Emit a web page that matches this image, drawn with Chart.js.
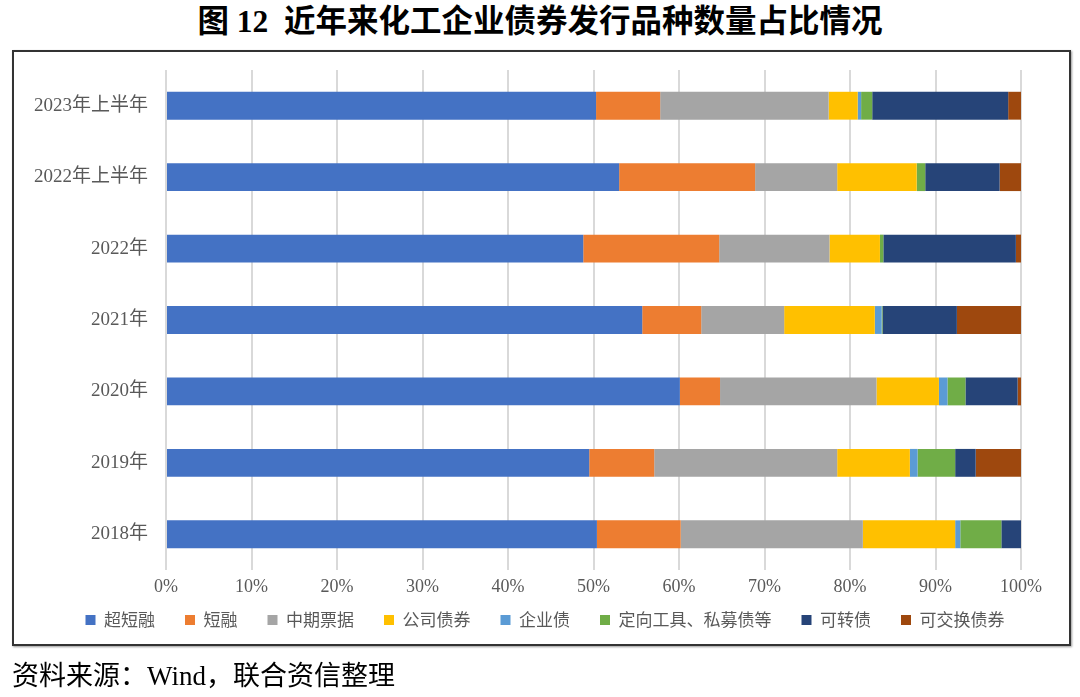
<!DOCTYPE html>
<html>
<head>
<meta charset="utf-8">
<script src="https://cdn.jsdelivr.net/npm/chart.js@4"></script>
<style>
  body { margin: 0; background: #fff; width: 1080px; height: 697px; position: relative; overflow: hidden; }
  #title { position: absolute; left: 0; top: 4px; width: 1080px; text-align: center; font: bold 31.5px "Liberation Serif", "Noto Sans CJK SC"; line-height: 36px; color: #000; }
  #box { position: absolute; left: 12px; top: 50px; width: 1055px; height: 592px; border: 2px solid #333; box-shadow: 1px 1px 2px #999; }
  #myChart { position: absolute; left: 0; top: 52px; }
  #source { position: absolute; left: 12px; top: 659px; font: 27px "Liberation Serif", "Noto Sans CJK SC"; line-height: 34px; color: #000; }
</style>
</head>
<body>
<div id="title">图 12&nbsp; 近年来化工企业债券发行品种数量占比情况</div>
<div id="box"></div>
<canvas id="myChart" width="1080" height="609"></canvas>
<div id="source">资料来源：Wind，联合资信整理</div>
<script>
const categories = ["2023年上半年", "2022年上半年", "2022年", "2021年", "2020年", "2019年", "2018年"];

const superShort = [50.3, 53.0, 48.8, 55.7, 60.1, 49.5, 50.4];
const shortTerm = [7.5, 15.9, 15.9, 6.9, 4.7, 7.6, 9.8];
const mtn = [19.7, 9.6, 12.9, 9.7, 18.3, 21.4, 21.3];
const corporateBond = [3.4, 9.3, 5.9, 10.6, 7.3, 8.5, 10.8];
const enterpriseBond = [0.4, 0, 0, 0.8, 1.0, 0.9, 0.6];
const privatePlacement = [1.3, 1.0, 0.4, 0.1, 2.1, 4.4, 4.8];
const convertible = [15.9, 8.7, 15.5, 8.7, 6.1, 2.4, 2.3];
const exchangeable = [1.5, 2.5, 0.6, 7.5, 0.4, 5.3, 0];

const xTicks = [0, 10, 20, 30, 40, 50, 60, 70, 80, 90, 100];

const seriesNames = ["超短融", "短融", "中期票据", "公司债券", "企业债", "定向工具、私募债等", "可转债", "可交换债券"];
const seriesData = [superShort, shortTerm, mtn, corporateBond, enterpriseBond, privatePlacement, convertible, exchangeable];
const seriesColors = ["#4472C4", "#ED7D31", "#A5A5A5", "#FFC000", "#5B9BD5", "#70AD47", "#264478", "#9E480E"];

const datasets = seriesNames.map((name, i) => ({
    label: name,
    data: seriesData[i],
    backgroundColor: seriesColors[i],
    borderWidth: 0,
    categoryPercentage: 1,
    barPercentage: 0.39,
}));

// nudge the legend so it sits centred in the frame, closer to the axis
const legendShift = {
    id: "legendShift",
    afterLayout(chart) {
        const lg = chart.legend;
        if (!lg) return;
        const dx = 34.5;
        const dy = -22.5;
        lg.left += dx;
        lg.right += dx;
        lg.top += dy;
        lg.bottom += dy;
    },
};

const ctx = document.getElementById("myChart");

new Chart(ctx, {
    type: "bar",
    data: {
        labels: categories,
        datasets: datasets,
    },
    plugins: [legendShift],
    options: {
        indexAxis: "y",
        responsive: false,
        animation: false,
        layout: {
            padding: { left: 0, right: 59, top: 18, bottom: 0 },
        },
        scales: {
            x: {
                stacked: true,
                min: 0,
                max: 100,
                afterBuildTicks: (axis) => {
                    axis.ticks = xTicks.map((v) => ({ value: v }));
                },
                afterFit: (axis) => {
                    axis.height = 34;
                },
                grid: { color: "#d9d9d9", lineWidth: 2, drawTicks: false },
                border: { display: false },
                ticks: {
                    padding: 6,
                    color: "#595959",
                    font: { family: "'Liberation Serif', 'Noto Sans CJK SC'", size: 18 },
                    callback: (v) => v + "%",
                },
            },
            y: {
                stacked: true,
                afterFit: (axis) => {
                    axis.width = 166;
                    axis.paddingTop = 0;
                    axis.paddingBottom = 0;
                },
                grid: { display: false, drawTicks: false },
                border: { display: false },
                ticks: {
                    padding: 18,
                    color: "#595959",
                    font: { family: "'Liberation Serif', 'Noto Sans CJK SC'", size: 19 },
                },
            },
        },
        plugins: {
            legend: {
                position: "bottom",
                labels: {
                    boxWidth: 10,
                    boxHeight: 10,
                    padding: 30,
                    color: "#595959",
                    font: { family: "'Noto Sans CJK SC'", size: 17 },
                },
            },
            tooltip: { enabled: false },
        },
    },
});
</script>
</body>
</html>
